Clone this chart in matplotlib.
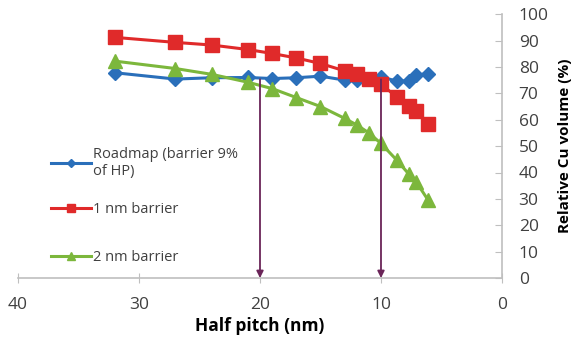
import matplotlib.pyplot as plt

plt.rcParams['font.family'] = ['Open Sans', 'DejaVu Sans']

# half pitch (nm) and relative Cu volume (%)
hp = [32, 27, 24, 21, 19, 17, 15, 13, 12, 11, 10, 8.7, 7.7, 7.1, 6.1]
roadmap = [77.8, 75.4, 75.9, 76.0, 75.6, 75.9, 76.5, 75.0, 75.0, 75.5, 76.3, 74.6, 74.7, 76.9, 77.5]
barrier_1nm = [91.2, 89.3, 88.3, 86.6, 85.1, 83.4, 81.3, 78.5, 77.2, 75.3, 73.4, 68.7, 65.2, 63.4, 58.4]
barrier_2nm = [82.2, 79.4, 77.2, 74.2, 71.8, 68.4, 65.0, 60.5, 58.0, 55.0, 51.0, 44.7, 39.4, 36.5, 29.5]

arrow_x = [20, 10]
arrow_top = [75.3, 75.3]

blue = '#2a6fba'
red = '#e02a2a'
green = '#7cb73c'
purple = '#6a2458'
grey = '#404040'

fig = plt.figure(figsize=(5.81, 3.45), dpi=100)
ax = fig.add_axes([0.031, 0.194, 0.833, 0.765])

l1, = ax.plot(hp, roadmap, color=blue, lw=2.2, marker='D', ms=7, label='Roadmap (barrier 9%\nof HP)')
l2, = ax.plot(hp, barrier_1nm, color=red, lw=2.2, marker='s', ms=9.5, label='1 nm barrier')
l3, = ax.plot(hp, barrier_2nm, color=green, lw=2.2, marker='^', ms=10, label='2 nm barrier')

for x, top in zip(arrow_x, arrow_top):
    ax.annotate('', xy=(x, 0), xytext=(x, top),
                arrowprops=dict(arrowstyle='-|>', color=purple, lw=1.3,
                                mutation_scale=10, shrinkA=0, shrinkB=0))

ax.set_xlim(40, 0)
ax.set_ylim(0, 100)
ax.set_xticks([40, 30, 20, 10, 0])
ax.set_yticks(range(0, 101, 10))

ax.yaxis.tick_right()
ax.yaxis.set_label_position('right')
for s in ['top', 'left']:
    ax.spines[s].set_visible(False)
for s in ['bottom', 'right']:
    ax.spines[s].set_color('#bfbfbf')
    ax.spines[s].set_linewidth(1.2)
ax.tick_params(axis='x', direction='inout', length=7, color='#bfbfbf',
               labelsize=12.5, labelcolor=grey, pad=10)
ax.tick_params(axis='y', direction='in', length=5, color='#bfbfbf',
               labelsize=12.5, labelcolor=grey, pad=12)

ax.set_xlabel('Half pitch (nm)', fontsize=12.5, fontweight='bold', color='black', labelpad=3)
ax.set_ylabel('Relative Cu volume (%)', fontsize=11, fontweight='bold', color='black', labelpad=7)

leg_kw = dict(loc='upper left', frameon=False, fontsize=10.5, handlelength=2.7,
              handletextpad=0.2, markerscale=0.6, borderaxespad=0, borderpad=0)
leg1 = fig.legend([l1, l2], [l1.get_label(), l2.get_label()],
                  bbox_to_anchor=(0.088, 0.575), labelspacing=1.6, **leg_kw)
leg2 = fig.legend([l3], [l3.get_label()], bbox_to_anchor=(0.088, 0.275), **leg_kw)
for leg in (leg1, leg2):
    for t in leg.get_texts():
        t.set_color(grey)

fig.savefig('out.png', dpi=100)
